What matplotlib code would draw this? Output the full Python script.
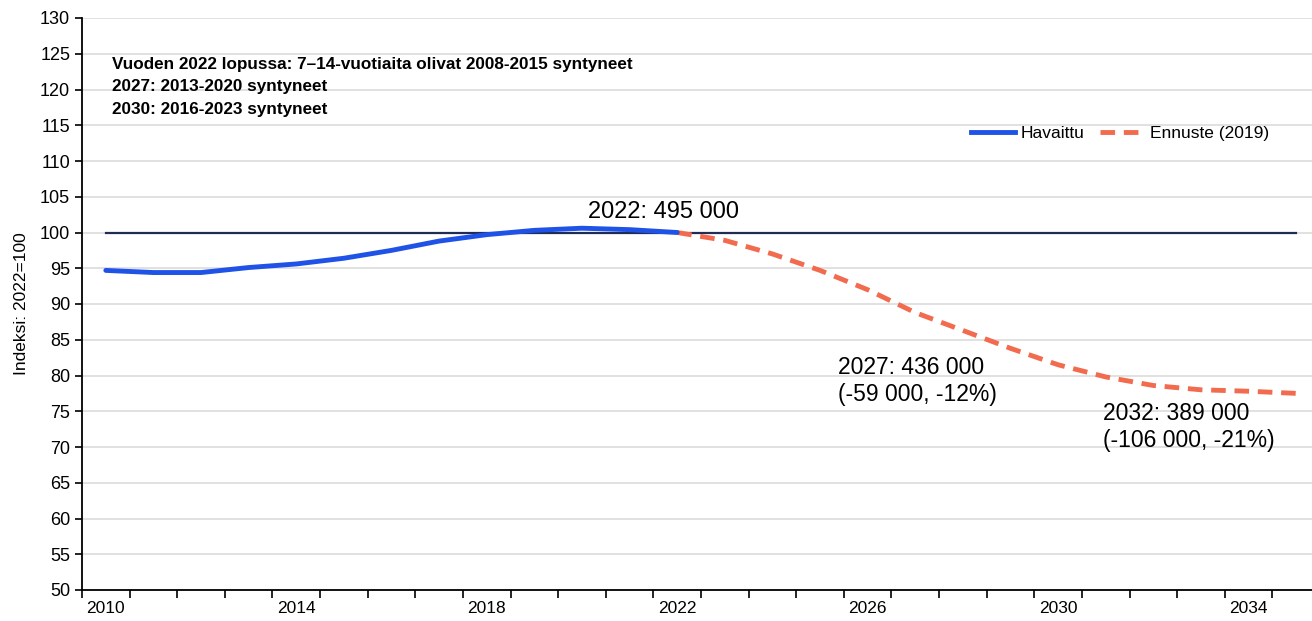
"""Lasten (7-14 v) määrä: havaittu ja ennuste, indeksi 2022=100."""

import matplotlib.pyplot as plt
from matplotlib.lines import Line2D

YEARS = list(range(2010, 2036))
OBSERVED_YEARS = list(range(2010, 2023))
OBSERVED = [94.7, 94.4, 94.4, 95.1, 95.6, 96.4, 97.5, 98.8, 99.7, 100.3, 100.6, 100.4, 100.0]
FORECAST_YEARS = list(range(2022, 2036))
FORECAST = [100.0, 98.9, 97.0, 94.7, 92.0, 88.8, 86.3, 83.8, 81.5, 79.8, 78.6, 78.0, 77.8, 77.5]
BASELINE = 100
TICK_LABEL_YEARS = [2010, 2014, 2018, 2022, 2026, 2030, 2034]

BLUE = "#1f52e6"
CORAL = "#f26b4f"
NAVY = "#1f2d55"

plt.rcParams["font.family"] = ["Liberation Sans", "DejaVu Sans"]

fig = plt.figure(figsize=(13.12, 6.21), dpi=100)
ax = fig.add_axes([82 / 1312, 31 / 621, (1320 - 82) / 1312, 572 / 621])


def pos(year):
    return year - YEARS[0]


ax.plot([pos(y) for y in OBSERVED_YEARS], OBSERVED, color=BLUE, linewidth=3.5,
        solid_capstyle="round", zorder=4)
ax.plot([pos(y) for y in FORECAST_YEARS], FORECAST, color=CORAL, linewidth=3.5,
        dashes=(3, 1.8), zorder=3)
ax.plot([pos(YEARS[0]), pos(YEARS[-1])], [BASELINE, BASELINE], color=NAVY,
        linewidth=1.6, zorder=2)

ax.set_xlim(-0.5, len(YEARS) - 0.5)
ax.set_ylim(50, 130)
ax.set_yticks(range(50, 131, 5))
ax.yaxis.grid(True, color="#dcdcdc", linewidth=1.2)
ax.set_axisbelow(True)

ax.set_xticks([i - 0.5 for i in range(len(YEARS) + 1)])
ax.set_xticklabels([])
ax.set_xticks([pos(y) for y in TICK_LABEL_YEARS], minor=True)
ax.set_xticklabels([str(y) for y in TICK_LABEL_YEARS], minor=True)
ax.tick_params(axis="x", which="major", direction="out", length=6, width=1.2)
ax.tick_params(axis="x", which="minor", length=0, pad=8, labelsize=12.5)
ax.tick_params(axis="y", direction="out", length=5, width=1.2, labelsize=13)

for side in ("top", "right"):
    ax.spines[side].set_visible(False)
ax.spines["left"].set_linewidth(1.3)
ax.spines["bottom"].set_linewidth(1.3)

ax.set_ylabel("Indeksi: 2022=100", fontsize=12.5)
ax.yaxis.set_label_coords(-0.043, 0.5)

note_font = ["Liberation Sans Narrow", "Liberation Sans", "DejaVu Sans"]
ax.text(0.13, 124.6,
        "Vuoden 2022 lopussa: 7\u201314-vuotiaita olivat 2008-2015 syntyneet\n"
        "2027: 2013-2020 syntyneet\n2030: 2016-2023 syntyneet",
        fontsize=12.3, fontweight="bold", family=note_font, va="top",
        linespacing=1.65)
ax.text(11.72, 102.8, "2022: 495 000", fontsize=17, family=note_font,
        ha="center", va="center")
ax.text(15.38, 79.2, "2027: 436 000\n(-59 000, -12%)", fontsize=16.5,
        family=note_font, va="center", linespacing=1.2)
ax.text(20.95, 72.8, "2032: 389 000\n(-106 000, -21%)", fontsize=16.5,
        family=note_font, va="center", linespacing=1.2)

handles = [
    Line2D([], [], color=BLUE, linewidth=3.5),
    Line2D([], [], color=CORAL, linewidth=3.5, dashes=(3, 1.8)),
]
fig.legend(handles, ["Havaittu", "Ennuste (2019)"], loc="center",
           bbox_to_anchor=(1120 / 1312, 1 - 133 / 621), ncol=2, frameon=False,
           fontsize=12.5, handlelength=2.5, handletextpad=0.35, columnspacing=0.9)

fig.savefig("out.png", dpi=100)
